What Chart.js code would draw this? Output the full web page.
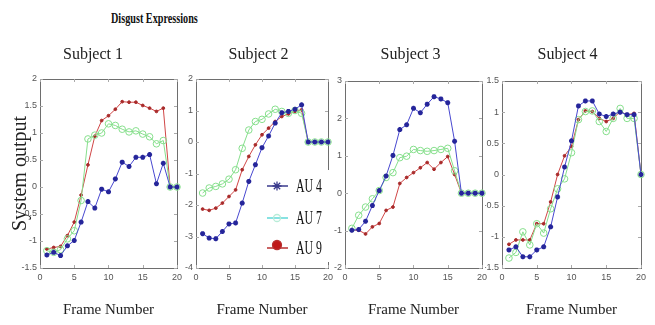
<!DOCTYPE html>
<html>
<head>
<meta charset="utf-8">
<script src="https://cdn.jsdelivr.net/npm/chart.js@4.4.0/dist/chart.umd.min.js"></script>
<style>
body { margin: 0; background: #fff; width: 655px; height: 325px; position: relative; overflow: hidden; }
canvas { position: absolute; top: 0; }
#mainTitle { position: absolute; left: 111px; top: 10px; font: bold 15px "Liberation Serif", serif; color: #111;
  transform: scaleX(0.68); transform-origin: left top; white-space: nowrap; }
</style>
</head>
<body>
<div id="mainTitle">Disgust Expressions</div>
<canvas id="subj1" width="186" height="325" style="left:0px"></canvas>
<canvas id="subj2" width="157" height="325" style="left:180px"></canvas>
<canvas id="subj3" width="161" height="325" style="left:330px"></canvas>
<canvas id="subj4" width="165" height="325" style="left:485px"></canvas>
<script>
var frames = [1,2,3,4,5,6,7,8,9,10,11,12,13,14,15,16,17,18,19,20];
var seriesNames = ['AU 4', 'AU 7', 'AU 9'];
var subjectNames = ['Subject 1', 'Subject 2', 'Subject 3', 'Subject 4'];

// Subject 1
var s1_au4 = [-1.26,-1.21,-1.27,-1.09,-0.99,-0.65,-0.27,-0.39,-0.04,-0.09,0.15,0.46,0.38,0.55,0.55,0.60,0.06,0.44,0,0];
var s1_au7 = [-1.18,-1.21,-1.16,-0.96,-0.81,-0.25,0.89,0.96,1.00,1.17,1.14,1.07,1.02,1.04,0.98,0.93,0.80,0.86,0,0];
var s1_au9 = [-1.15,-1.12,-1.10,-0.90,-0.65,-0.15,0.41,0.94,1.23,1.32,1.44,1.58,1.57,1.57,1.51,1.46,1.40,1.46,0,0];
// Subject 2
var s2_au4 = [-2.91,-3.05,-3.07,-2.84,-2.60,-2.57,-1.94,-1.25,-0.72,-0.18,0.19,0.60,0.93,0.97,1.04,1.18,0,0,0,0];
var s2_au7 = [-1.62,-1.46,-1.41,-1.33,-1.18,-0.88,-0.20,0.38,0.65,0.72,0.89,1.04,0.97,0.91,1.00,0.91,0,0,0,0];
var s2_au9 = [-2.13,-2.17,-2.10,-1.94,-1.73,-1.52,-0.88,-0.46,-0.09,0.23,0.44,0.65,0.81,0.89,0.97,1.02,0,0,0,0];
// Subject 3
var s3_au4 = [-0.99,-0.97,-0.75,-0.33,0.07,0.46,1.01,1.70,1.83,2.27,2.15,2.38,2.58,2.52,2.42,1.39,0,0,0,0];
var s3_au7 = [-0.94,-0.59,-0.37,-0.15,0.07,0.42,0.55,0.95,0.99,1.17,1.14,1.12,1.14,1.17,1.20,0.60,0,0,0,0];
var s3_au9 = [-0.99,-0.99,-1.09,-0.90,-0.81,-0.46,-0.37,0.26,0.42,0.55,0.68,0.82,0.64,0.82,0.98,0.50,0,0,0,0];
// Subject 4
var s4_au4 = [-1.21,-1.16,-1.32,-1.32,-1.21,-1.16,-0.84,-0.36,0.12,0.54,1.10,1.18,1.18,0.97,0.93,0.97,1.00,0.96,0.96,0];
var s4_au7 = [-1.34,-1.25,-0.92,-1.13,-0.79,-0.94,-0.55,-0.23,-0.07,0.35,0.88,1.01,1.02,0.85,0.69,0.90,1.06,0.90,0.90,0];
var s4_au9 = [-1.12,-1.05,-1.05,-1.05,-0.79,-0.79,-0.44,0.00,0.30,0.45,0.88,1.02,1.01,0.90,0.85,0.90,1.01,0.96,0.98,0];

// y axis ranges per subject
var yMin = [-1.5, -4, -2, -1.5];
var yMax = [2, 2, 3, 1.5];
var yStep = [0.5, 1, 1, 0.5];

var serif = '"Liberation Serif", "Times New Roman", serif';
var sans = '"Liberation Sans", Arial, sans-serif';

function pts(vals) {
    return frames.map(function(f, i) { return {x: f, y: vals[i]}; });
}

// matlab-like tick text: 2, 1.5, 1, 0.5, 0 ...
function plainTick(v) {
    return String(+Number(v).toFixed(2));
}

// axes box with small inward ticks, matlab style
var boxPlugin = {
    id: 'box',
    beforeDatasetsDraw: function(chart) {
        var ctx = chart.ctx, a = chart.chartArea;
        var xs = chart.scales.x, ys = chart.scales.y;
        ctx.save();
        ctx.strokeStyle = '#6e6e6e';
        ctx.lineWidth = 1;
        ctx.strokeRect(Math.round(a.left) + 0.5, Math.round(a.top) + 0.5,
            Math.round(a.right - a.left), Math.round(a.bottom - a.top));
        ctx.strokeStyle = '#aaa';
        ctx.beginPath();
        xs.ticks.forEach(function(t) {
            var px = Math.round(xs.getPixelForValue(t.value)) + 0.5;
            ctx.moveTo(px, a.bottom); ctx.lineTo(px, a.bottom - 3);
            ctx.moveTo(px, a.top); ctx.lineTo(px, a.top + 3);
        });
        ys.ticks.forEach(function(t) {
            var py = Math.round(ys.getPixelForValue(t.value)) + 0.5;
            ctx.moveTo(a.left, py); ctx.lineTo(a.left + 3, py);
            ctx.moveTo(a.right, py); ctx.lineTo(a.right - 3, py);
        });
        ctx.stroke();
        ctx.restore();
    }
};

// legend drawn inside subject 2
var legendColors = ['#3a3a8c', '#5fd8d8', '#b83030'];
var legendPlugin = {
    id: 'inlegend',
    afterDatasetsDraw: function(chart, args, opts) {
        if (!opts.show) return;
        var ctx = chart.ctx, a = chart.chartArea;
        var bx = a.left + 66, by = a.top + 91;
        ctx.save();
        ctx.fillStyle = '#fff';
        ctx.fillRect(bx, by, 67, 92);
        var rows = [107, 139, 169];
        chart.data.datasets.forEach(function(ds, i) {
            var y = a.top + rows[i];
            ctx.strokeStyle = legendColors[i];
            ctx.lineWidth = 1.5;
            ctx.beginPath();
            ctx.moveTo(a.left + 71, y); ctx.lineTo(a.left + 92, y);
            ctx.stroke();
            var mk = [{pointStyle: 'star', radius: 4.5}, {pointStyle: 'circle', radius: 3.5}, {pointStyle: 'circle', radius: 4.5}][i];
            ctx.strokeStyle = i === 1 ? '#b8ecd8' : legendColors[i];
            ctx.fillStyle = i === 2 ? '#c01818' : 'rgba(0,0,0,0)';
            ctx.lineWidth = 1.3;
            Chart.helpers.drawPoint(ctx, {pointStyle: mk.pointStyle, radius: mk.radius, rotation: 0, borderWidth: 1.3}, a.left + 81, y - (i === 2 ? 3 : 0));
            ctx.fillStyle = '#111';
            ctx.font = '19px ' + serif;
            ctx.textBaseline = 'middle';
            ctx.translate(a.left + 100, y);
            ctx.scale(0.62, 1);
            ctx.fillText(ds.label, 0, 1);
            ctx.setTransform(1, 0, 0, 1, 0, 0);
        });
        ctx.restore();
    }
};

function makePanel(idx, au4, au7, au9, yw, topGap, withYTitle, withLegend) {
    var ctx = document.getElementById('subj' + (idx + 1)).getContext('2d');
    return new Chart(ctx, {
        type: 'line',
        data: {
            datasets: [{
                label: seriesNames[0],
                data: pts(au4),
                borderColor: '#4848d0',
                borderWidth: 1,
                pointStyle: 'star',
                pointRadius: 2.5,
                pointBorderColor: '#25259a',
                pointBorderWidth: 1.6,
                pointBackgroundColor: '#25259a',
                tension: 0,
                clip: false
            }, {
                label: seriesNames[1],
                data: pts(au7),
                borderColor: '#86df8c',
                borderWidth: 1,
                pointStyle: 'circle',
                pointRadius: 3.3,
                pointBorderColor: '#86df8c',
                pointBorderWidth: 1,
                pointBackgroundColor: 'rgba(255,255,255,0)',
                tension: 0,
                clip: false
            }, {
                label: seriesNames[2],
                data: pts(au9),
                borderColor: '#d04646',
                borderWidth: 1,
                pointStyle: 'circle',
                pointRadius: 1.4,
                pointBorderColor: '#a82a2a',
                pointBackgroundColor: '#a82a2a',
                tension: 0,
                clip: false
            }]
        },
        options: {
            responsive: false,
            animation: false,
            events: [],
            layout: { padding: 0 },
            plugins: {
                legend: { display: false },
                tooltip: { enabled: false },
                title: {
                    display: true,
                    text: subjectNames[idx],
                    color: '#222',
                    font: { family: serif, size: 16, weight: 'normal' },
                    padding: { top: 45, bottom: topGap }
                },
                inlegend: { show: withLegend }
            },
            scales: {
                x: {
                    type: 'linear',
                    min: 0, max: 20,
                    grid: { display: false, drawTicks: false },
                    border: { display: false },
                    ticks: { stepSize: 5, font: { family: sans, size: 9 }, color: '#555', padding: 4, maxRotation: 0, autoSkip: false, callback: plainTick },
                    title: { display: true, text: 'Frame Number', color: '#222', font: { family: serif, size: 15 }, padding: { top: 0, bottom: 6 } },
                    afterFit: function(s) { s.height = 57; }
                },
                y: {
                    min: yMin[idx], max: yMax[idx],
                    grid: { display: false, drawTicks: false },
                    border: { display: false },
                    ticks: { stepSize: yStep[idx], font: { family: sans, size: 9 }, color: '#555', padding: 3, autoSkip: false, callback: plainTick },
                    title: { display: withYTitle, text: 'System output', color: '#222', font: { family: serif, size: 20 }, padding: { top: 9, bottom: 0 } },
                    afterFit: function(s) { s.width = yw; }
                }
            }
        },
        plugins: [boxPlugin, legendPlugin]
    });
}

makePanel(0, s1_au4, s1_au7, s1_au9, 40, 14.8, true, false);
makePanel(1, s2_au4, s2_au7, s2_au9, 16, 14.8, false, true);
makePanel(2, s3_au4, s3_au7, s3_au9, 15, 16.8, false, false);
makePanel(3, s4_au4, s4_au7, s4_au9, 17, 16.8, false, false);
</script>
</body>
</html>
